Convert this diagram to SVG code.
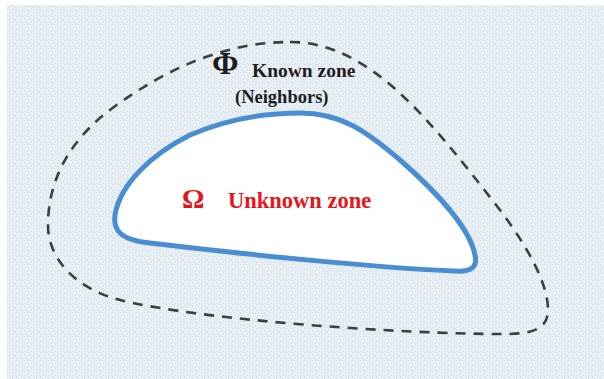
<svg xmlns="http://www.w3.org/2000/svg" width="604" height="379" viewBox="0 0 604 379">
<defs>
<pattern id="tex" width="6" height="6" patternUnits="userSpaceOnUse">
<rect width="6" height="6" fill="#e7eef4"/>
<rect x="0" y="0" width="1" height="1" fill="#cfd9e2"/>
<rect x="3" y="1" width="1" height="1" fill="#d3dce5"/>
<rect x="1" y="3" width="1" height="1" fill="#d0dae3"/>
<rect x="4" y="4" width="1" height="1" fill="#cbd6df"/>
<rect x="5" y="2" width="1" height="1" fill="#f3f7fa"/>
<rect x="2" y="5" width="1" height="1" fill="#f3f7fa"/>
</pattern>
<style>
.lbl{font-family:"Liberation Serif","Times New Roman",serif;font-weight:bold}
.blk{fill:#1e1e1e}
.red{fill:#e8141c}
</style>
</defs>
<rect width="604" height="379" fill="#ffffff"/>
<rect x="7" y="5" width="597" height="374" fill="url(#tex)"/>
<g id="known-zone">
<path d="M 290,42 C 370,42 430,120 500,210 C 530,250 548,285 548,310 C 548,330 530,334 505,334 C 400,334 200,320 120,300 C 80,290 48,262 48,225 C 48,180 70,140 110,110 C 170,65 230,42 290,42 Z" fill="none" stroke="#3a3f47" stroke-width="2.6" stroke-dasharray="10 8"/>
<text class="lbl blk" x="212" y="74" font-size="32">Φ</text>
<text class="lbl blk" x="252" y="77" font-size="19.5">Known zone</text>
<text class="lbl blk" x="235" y="103" font-size="18.5">(Neighbors)</text>
</g>
<g id="unknown-zone">
<path d="M 300,113 C 340,113 365,130 400,160 C 440,195 470,230 475,255 C 478,268 470,272 455,271 C 380,268 250,255 150,243 C 120,240 113,230 115,215 C 120,185 150,155 190,135 C 230,118 270,113 300,113 Z" fill="#ffffff" stroke="#4a8ed2" stroke-width="5"/>
<text class="lbl red" x="182" y="208" font-size="28">Ω</text>
<text class="lbl red" x="228" y="208" font-size="22.5">Unknown zone</text>
</g>
</svg>
